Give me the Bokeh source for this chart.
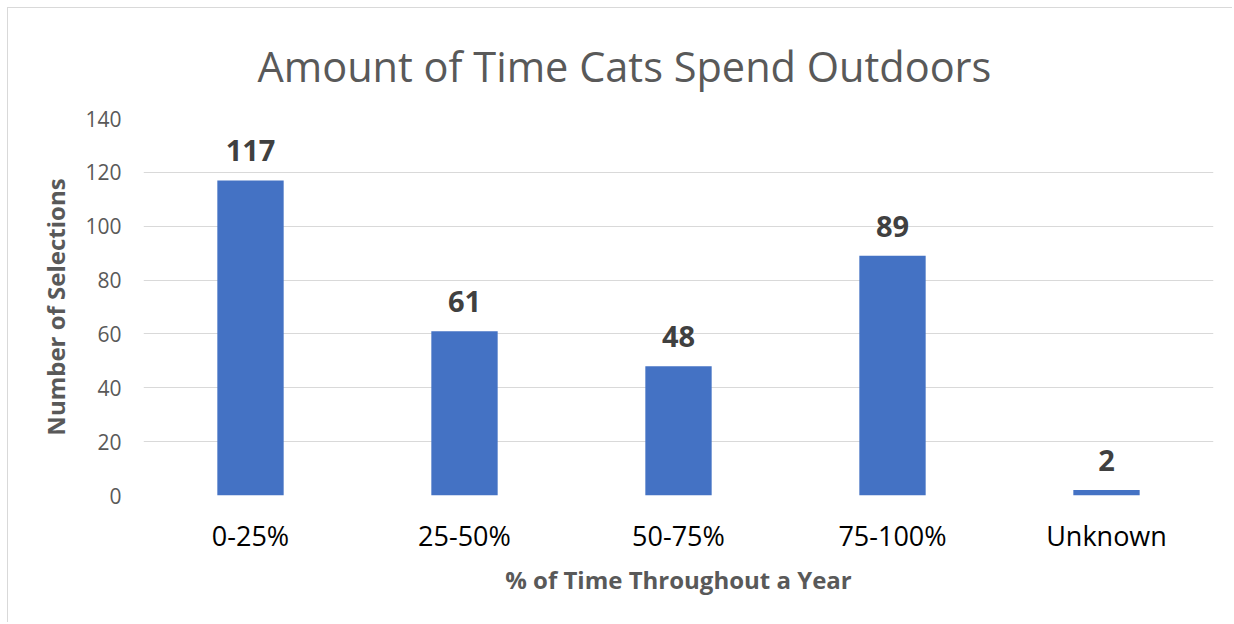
from bokeh.plotting import figure
from bokeh.models import ColumnDataSource, LabelSet
from bokeh.core.properties import value
from bokeh.embed import file_html
from bokeh.resources import INLINE

categories = ["0-25%", "25-50%", "50-75%", "75-100%", "Unknown"]
counts = [117, 61, 48, 89, 2]
y_ticks = [0, 20, 40, 60, 80, 100, 120, 140]
title_text = "Amount of Time Cats Spend Outdoors"
x_title = "% of Time Throughout a Year"
y_title = "Number of Selections"

FONT = "Open Sans"
src = ColumnDataSource(dict(cat=categories, val=counts, lab=[str(v) for v in counts]))

W, H = 1225, 615
p = figure(x_range=categories, y_range=(0, 140), width=W, height=H,
           output_backend="svg", toolbar_location=None,
           min_border_left=135, min_border_right=W - 1205,
           min_border_top=110, min_border_bottom=H - 487,
           title=title_text)
p.styles = {"margin-left": "7px", "margin-top": "7px",
            "border-left": "1px solid #d9d9d9", "border-top": "1px solid #d9d9d9"}
p.outline_line_color = None
p.background_fill_color = "white"
p.border_fill_color = "white"

p.title.align = "left"
p.title.offset = 114
p.title.standoff = 50
p.title.text_font = FONT
p.title.text_font_style = "normal"
p.title.text_font_size = "41.5px"
p.title.text_color = "#595959"

p.vbar(x="cat", top="val", width=0.31, source=src, fill_color="#4472c4", line_color=None)

labels = LabelSet(x="cat", y="val", text="lab", source=src, text_align="center",
                  text_baseline="bottom", y_offset=19, text_font=value(FONT),
                  text_font_style="bold", text_font_size="29px", text_color="#404040")
p.add_layout(labels)

p.yaxis.ticker = y_ticks
p.ygrid.grid_line_color = "#d9d9d9"
p.ygrid.grid_line_width = 1
p.xgrid.grid_line_color = None
for ax in (p.xaxis, p.yaxis):
    ax.axis_line_color = None
    ax.major_tick_line_color = None
    ax.minor_tick_line_color = None
    ax.major_tick_out = 0
    ax.major_tick_in = 0
p.yaxis.major_label_text_font = FONT
p.yaxis.major_label_text_font_size = "21px"
p.yaxis.major_label_text_color = "#595959"
p.yaxis.major_label_standoff = 22
p.yaxis.axis_label = y_title
p.yaxis.axis_label_text_font = FONT
p.yaxis.axis_label_text_font_style = "bold"
p.yaxis.axis_label_text_font_size = "24px"
p.yaxis.axis_label_text_color = "#595959"
p.yaxis.axis_label_standoff = 10

p.xaxis.major_label_text_font = FONT
p.xaxis.major_label_text_font_size = "27px"
p.xaxis.major_label_text_color = "#000000"
p.xaxis.major_label_standoff = 21
p.xaxis.axis_label = x_title
p.xaxis.axis_label_text_font = FONT
p.xaxis.axis_label_text_font_style = "bold"
p.xaxis.axis_label_text_font_size = "24px"
p.xaxis.axis_label_text_color = "#595959"
p.xaxis.axis_label_standoff = 6

open("out.html", "w").write(file_html(p, INLINE))
